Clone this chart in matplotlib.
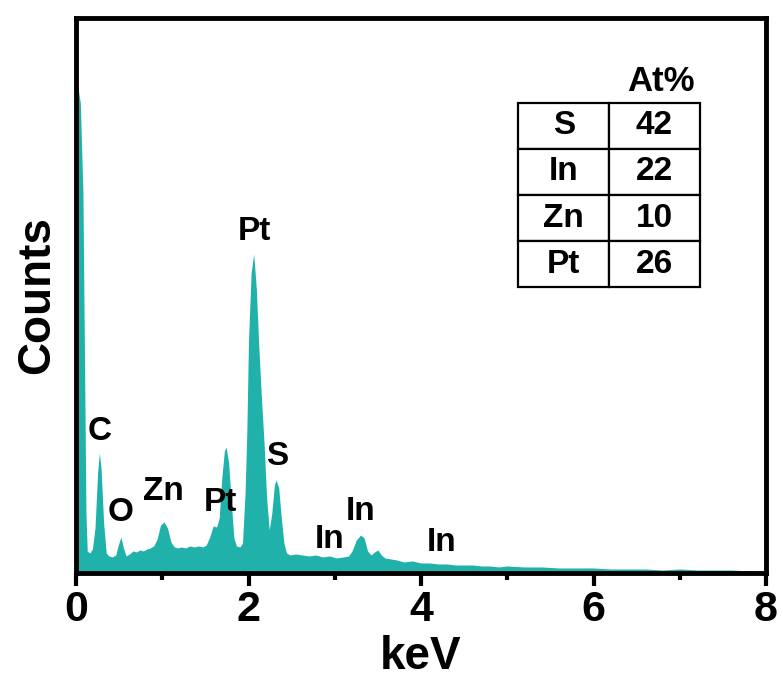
import matplotlib.pyplot as plt

plt.rcParams['font.family'] = ['Liberation Sans', 'DejaVu Sans']
plt.rcParams['font.weight'] = 'bold'

# EDS spectrum (arbitrary count units)
kev = [0.00, 0.02, 0.05, 0.08, 0.10, 0.115, 0.13, 0.16, 0.19, 0.22, 0.25, 0.27,
       0.29, 0.32, 0.35, 0.38, 0.42, 0.46, 0.49, 0.52, 0.55, 0.58, 0.62, 0.66,
       0.70, 0.74, 0.78, 0.82, 0.86, 0.90, 0.94, 0.98, 1.02, 1.06, 1.10, 1.14,
       1.18, 1.22, 1.27, 1.32, 1.37, 1.42, 1.47, 1.51, 1.55, 1.59, 1.63, 1.66,
       1.69, 1.72, 1.74, 1.77, 1.80, 1.83, 1.86, 1.90, 1.93, 1.96, 1.98, 2.00,
       2.03, 2.06, 2.09, 2.12, 2.15, 2.18, 2.21, 2.24, 2.27, 2.30, 2.32, 2.35,
       2.38, 2.41, 2.44, 2.48, 2.55, 2.62, 2.70, 2.78, 2.86, 2.94, 3.02, 3.10,
       3.16, 3.20, 3.25, 3.30, 3.34, 3.38, 3.42, 3.46, 3.50, 3.54, 3.58, 3.65,
       3.72, 3.80, 3.90, 4.00, 4.10, 4.20, 4.30, 4.40, 4.50, 4.60, 4.70, 4.80,
       4.90, 5.00, 5.20, 5.40, 5.60, 5.80, 6.00, 6.20, 6.40, 6.60, 6.80, 7.00,
       7.20, 7.40, 7.60, 7.80, 8.00]
counts = [480, 487, 470, 380, 200, 60, 22, 20, 24, 45, 100, 120,
          105, 50, 20, 17, 16, 18, 28, 36, 25, 17, 19, 22,
          21, 23, 22, 24, 25, 27, 34, 48, 51, 45, 31, 26,
          25, 26, 25, 27, 26, 27, 26, 28, 36, 47, 46, 55,
          95, 122, 126, 110, 70, 35, 27, 26, 30, 80, 140, 233,
          300, 319, 285, 225, 175, 130, 75, 43, 60, 88, 93, 85,
          55, 30, 20, 18, 19, 18, 17, 18, 16, 17, 15, 16,
          17, 22, 33, 38, 35, 22, 18, 21, 23, 18, 15, 14,
          13, 11, 12, 10, 10, 9, 9, 8, 8, 8, 7, 7,
          6, 7, 6, 6, 5, 5, 5, 4, 4, 4, 3, 4,
          3, 3, 3, 2, 2]

# peak labels
peak_names = ['C', 'O', 'Zn', 'Pt', 'Pt', 'S', 'In', 'In', 'In']
peak_x = [0.27, 0.52, 1.01, 1.67, 2.07, 2.33, 2.94, 3.30, 4.24]
peak_y = [141, 60, 81, 70, 341, 116, 33, 61, 30]

# composition table
elements = ['S', 'In', 'Zn', 'Pt']
at_percent = ['42', '22', '10', '26']

teal = '#20b2aa'

fig = plt.figure(figsize=(7.83, 6.89), dpi=100)
ax = fig.add_axes([0.0971, 0.1684, 0.8812, 0.8055])

ax.fill_between(kev, counts, 0, color=teal, linewidth=0)

for name, x, y in zip(peak_names, peak_x, peak_y):
    ax.text(x, y, name, ha='center', va='center', fontsize=24, fontweight='bold')

ax.set_xlim(0, 8)
ax.set_ylim(0, 555)
ax.set_xticks([0, 2, 4, 6, 8])
ax.set_xticks([1, 3, 5, 7], minor=True)
ax.set_yticks([])
ax.tick_params(axis='x', which='major', direction='out', length=9, width=3,
               labelsize=31, pad=3)
ax.tick_params(axis='x', which='minor', direction='out', length=5, width=3)
for lbl in ax.get_xticklabels():
    lbl.set_fontweight('bold')
for sp in ax.spines.values():
    sp.set_linewidth(3.5)

ax.set_xlabel('keV', fontsize=33, fontweight='bold', labelpad=4)
ax.set_ylabel('Counts', fontsize=33, fontweight='bold', labelpad=12)

tbl = ax.table(cellText=[[e, v] for e, v in zip(elements, at_percent)],
               cellLoc='center', bbox=[0.641, 0.515, 0.263, 0.332])
tbl.auto_set_font_size(False)
for cell in tbl.get_celld().values():
    cell.set_linewidth(1.6)
    cell.get_text().set_fontsize(24)
    cell.get_text().set_fontweight('bold')
ax.text(0.848, 0.885, 'At%', transform=ax.transAxes, ha='center', va='center',
        fontsize=25, fontweight='bold')

fig.savefig('out.png', dpi=100)
